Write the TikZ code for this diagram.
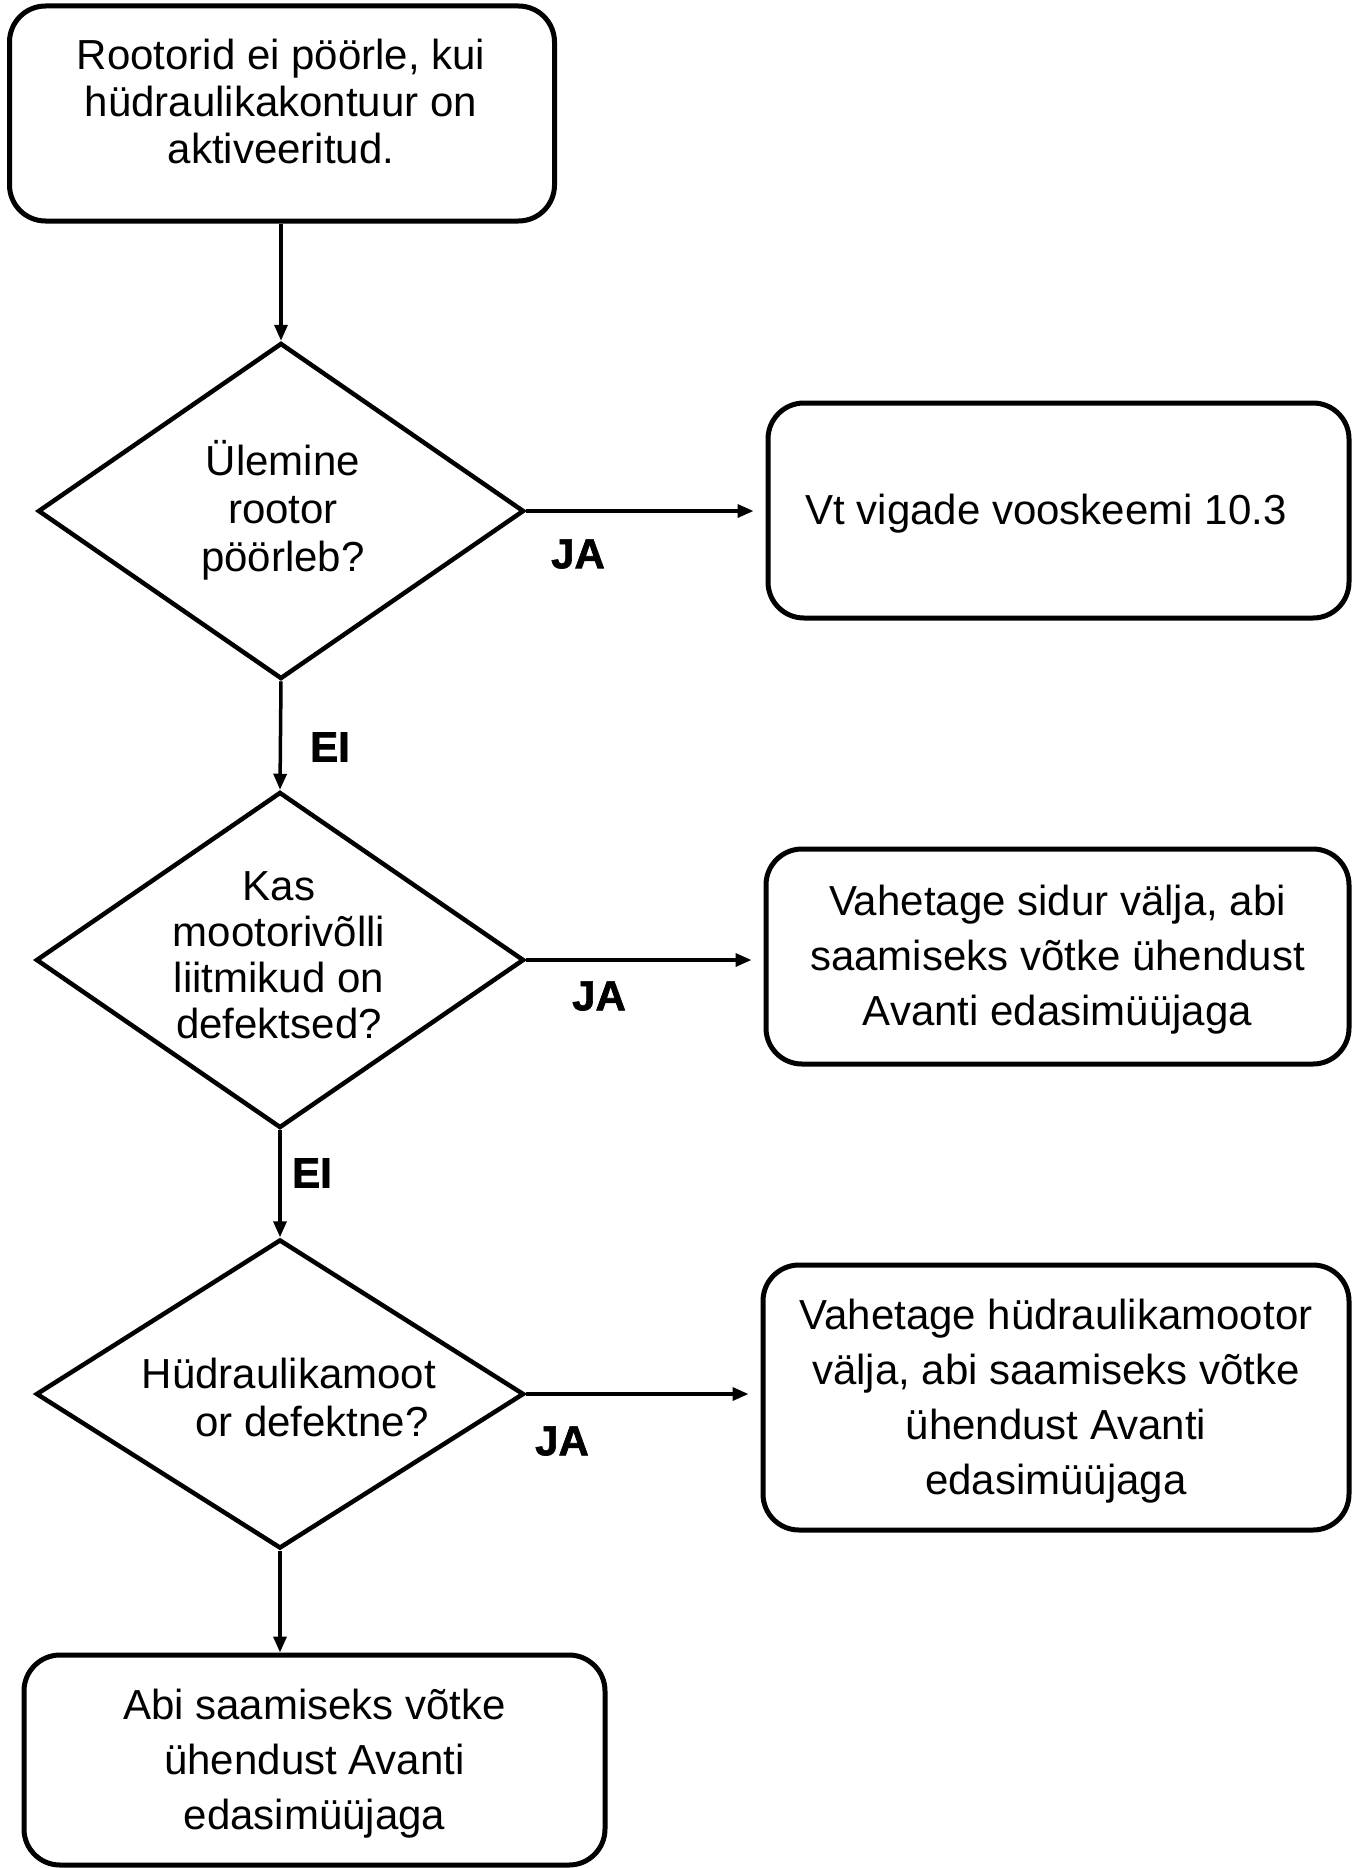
\documentclass[tikz,border=0pt]{standalone}
\usepackage{fontspec}
\setmainfont{Liberation Sans}
\newfontfamily\heavyfont[FakeBold=1.6]{Liberation Sans}
\usetikzlibrary{shapes.geometric,arrows.meta}
\tikzset{
  rbox/.style={draw, line width=5pt, rounded corners=36pt, align=center, inner sep=0pt,
    font=\fontsize{42}{55}\selectfont},
  btext/.style={align=center, inner sep=0pt, font=\fontsize{42}{55}\selectfont},
  dia/.style={draw, diamond, line width=4.5pt, inner sep=0pt},
  dtext/.style={align=center, inner sep=0pt, font=\fontsize{42}{48}\selectfont},
  lab/.style={font=\fontsize{42}{46}\heavyfont\bfseries, inner sep=0pt},
  conn/.style={line width=3.5pt, -{Triangle[length=16pt,width=13pt]}}
}
\begin{document}
\begin{tikzpicture}[x=1pt,y=-1pt]
\useasboundingbox (0,0) rectangle (1359,1868);
% boxes
\node[rbox, minimum width=545pt, minimum height=215pt] (b0) at (282,113.5) {};
\node[btext, font=\fontsize{42}{47}\selectfont] (t0) at (281,101)
  {Rootorid ei pöörle, kui\\hüdraulikakontuur on\\aktiveeritud.};
\node[rbox, minimum width=581pt, minimum height=215pt] (b1) at (1058.5,510.5) {};
\node[btext] (tb1) at (1046,514) {Vt vigade vooskeemi 10.3};
\node[rbox, minimum width=583pt, minimum height=215pt] (b2) at (1057.5,956.5) {};
\node[btext] (tb2) at (1057.5,960)
  {Vahetage sidur välja, abi\\saamiseks võtke ühendust\\Avanti edasimüüjaga};
\node[rbox, minimum width=586pt, minimum height=265pt] (b3) at (1056,1397.5) {};
\node[btext] (tb3) at (1056,1401)
  {Vahetage hüdraulikamootor\\välja, abi saamiseks võtke\\ühendust Avanti\\edasimüüjaga};
\node[rbox, minimum width=581pt, minimum height=210pt] (b4) at (314.5,1760) {};
\node[btext] (tb4) at (314.5,1764)
  {Abi saamiseks võtke\\ühendust Avanti\\edasimüüjaga};
% diamonds
\node[dia, minimum width=486pt, minimum height=336pt] (d1) at (281,511) {};
\node[dtext] (t1) at (283,510) {Ülemine\\rootor\\pöörleb?};
\node[dia, minimum width=488pt, minimum height=336pt] (d2) at (280,960) {};
\node[dtext, font=\fontsize{42}{46}\selectfont] (t2) at (279,955) {Kas\\mootorivõlli\\liitmikud on\\defektsed?};
\node[dia, minimum width=488pt, minimum height=309pt] (d3) at (280,1394) {};
\node[dtext] (t3) at (289,1397) {Hüdraulikamoot\\\hspace*{46pt}or defektne?};
% connectors
\draw[conn] (d1.north |- b0.south) -- (d1.north);
\draw[conn] (d1.south) -- (d2.north);
\draw[conn] (d2.south) -- (d3.north);
\draw[conn] (d3.south) -- (d3.south |- b4.north);
\draw[conn, shorten >=12pt] (d1.east) -- (d1.east -| b1.west);
\draw[conn, shorten >=12pt] (d2.east) -- (d2.east -| b2.west);
\draw[conn, shorten >=12pt] (d3.east) -- (d3.east -| b3.west);
% labels
\node[lab] (ja1) at (578,554) {JA};
\node[lab] (ei1) at (330,747) {EI};
\node[lab] (ja2) at (599,996) {JA};
\node[lab] (ei2) at (312,1173) {EI};
\node[lab] (ja3) at (562,1441) {JA};
\end{tikzpicture}
\end{document}
